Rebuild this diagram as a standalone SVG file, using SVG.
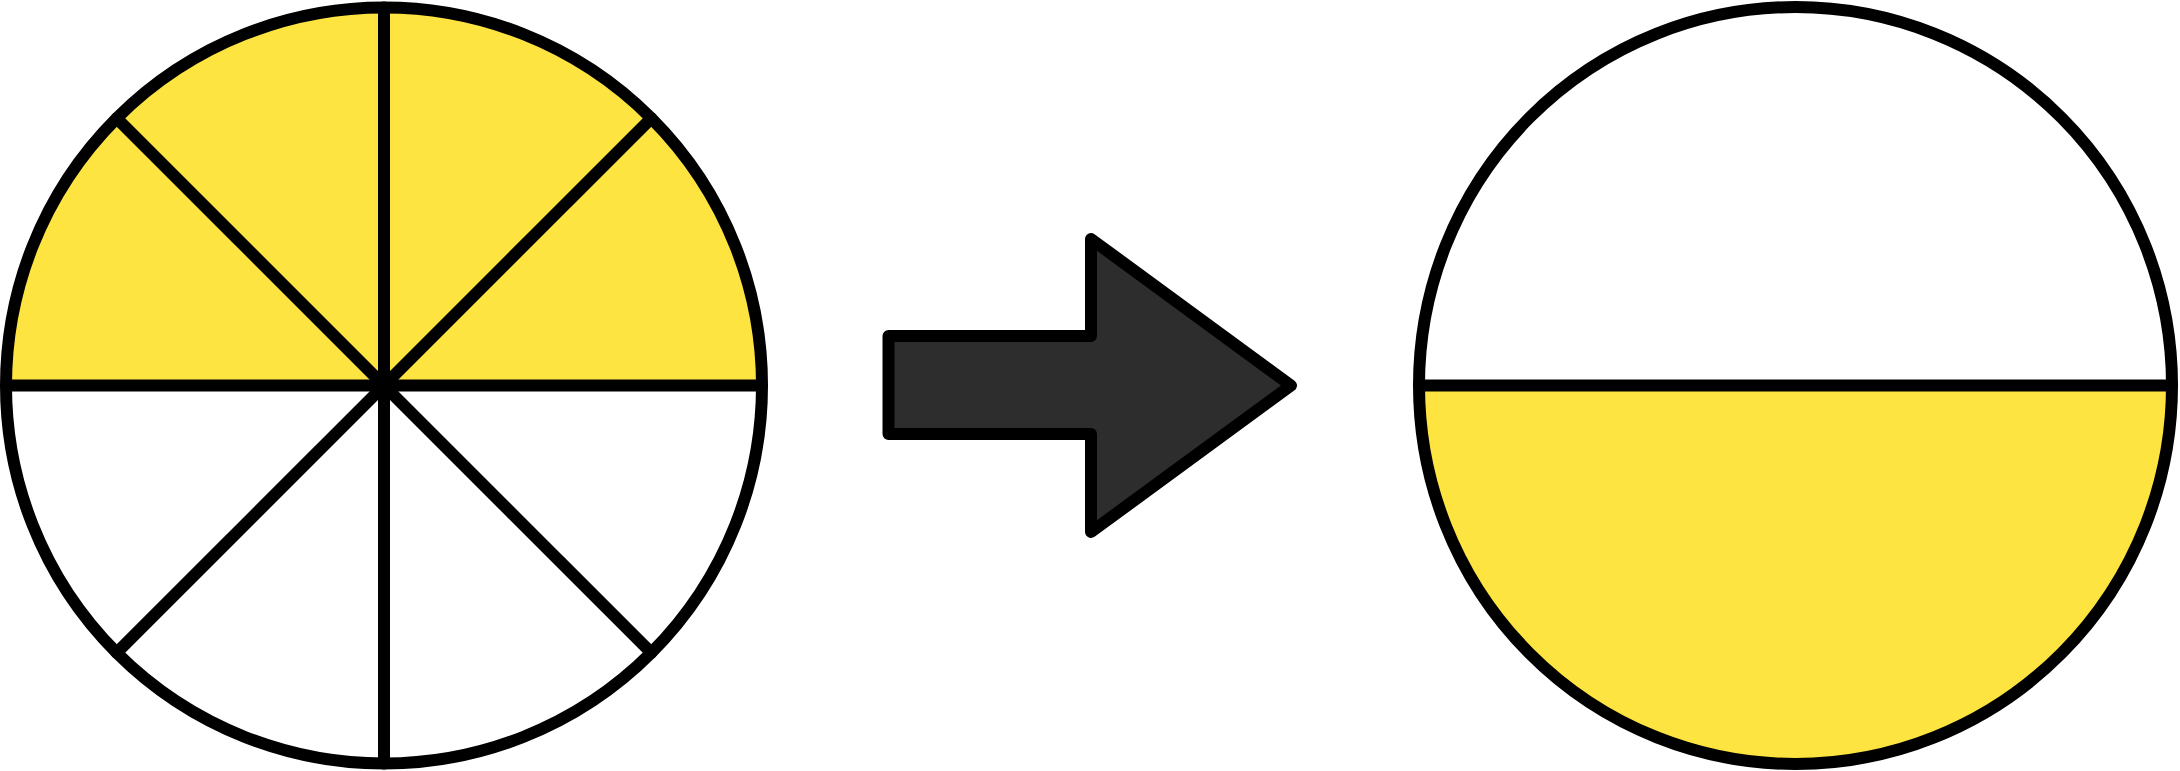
<svg xmlns="http://www.w3.org/2000/svg" width="2180" height="771" viewBox="0 0 2180 771">
  <style>
    .ln { stroke: #000; stroke-width: 12; fill: none; stroke-linecap: round; stroke-linejoin: round; }
    .yel { fill: #fde441; stroke: none; }
    .wht { fill: #ffffff; stroke: none; }
  </style>
  <rect width="2180" height="771" fill="#ffffff"/>
  <g id="left-circle">
    <path class="wht" d="M6,385.5 A378,378 0 1 0 762,385.5 Z"/>
    <path class="yel" d="M6,385.5 A378,378 0 1 1 762,385.5 Z"/>
    <line class="ln" x1="6" y1="385.5" x2="762" y2="385.5"/>
    <line class="ln" x1="384" y1="7.5" x2="384" y2="763.5"/>
    <line class="ln" x1="116.7" y1="118.2" x2="651.3" y2="652.8"/>
    <line class="ln" x1="651.3" y1="118.2" x2="116.7" y2="652.8"/>
    <circle class="ln" cx="384" cy="385.5" r="378"/>
  </g>
  <g id="arrow">
    <path d="M888.5,336 L1091,336 L1091,239 L1291,385.5 L1091,532 L1091,434 L888.5,434 Z" fill="#2d2d2d" stroke="#000" stroke-width="12" stroke-linejoin="round"/>
  </g>
  <g id="right-circle">
    <path class="wht" d="M1419,385.5 A376.5,378.5 0 1 1 2172,385.5 Z"/>
    <path class="yel" d="M1419,385.5 A376.5,378.5 0 1 0 2172,385.5 Z"/>
    <line class="ln" x1="1419" y1="385.5" x2="2172" y2="385.5"/>
    <ellipse class="ln" cx="1795.5" cy="385.5" rx="376.5" ry="378.5"/>
  </g>
  <g id="connectors"></g>
</svg>
